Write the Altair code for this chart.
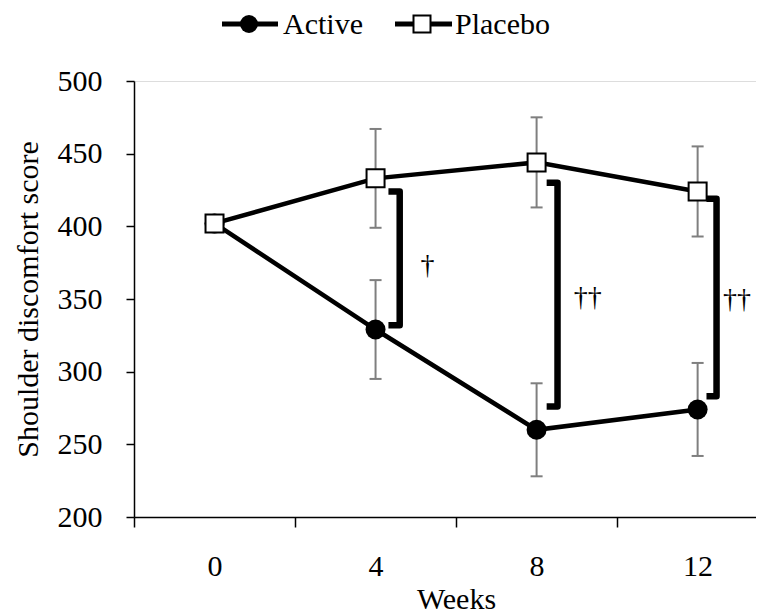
import altair as alt
import pandas as pd

# ---- data ----
weeks = [0, 4, 8, 12]
active_mean = [402, 329, 260, 274]
active_se = [0, 34, 32, 32]
placebo_mean = [402, 433, 444, 424]
placebo_se = [0, 34, 31, 31]

# significance brackets (data units)
bracket_arm_x = [4.32, 8.25, 12.22]
bracket_line_x = [4.6, 8.52, 12.47]
bracket_top = [424, 430, 419]
bracket_bottom = [332, 276, 283]
sig_labels = ["\u2020", "\u2020\u2020", "\u2020\u2020"]
sig_x = [5.29, 9.27, 12.98]
sig_y = [373, 351, 349]

FONT = "Liberation Serif"
FS = 30

rows = []
for w, m, s in zip(weeks, active_mean, active_se):
    rows.append({"week": w, "group": "Active", "mean": m, "lo": m - s, "hi": m + s, "se": s})
for w, m, s in zip(weeks, placebo_mean, placebo_se):
    rows.append({"week": w, "group": "Placebo", "mean": m, "lo": m - s, "hi": m + s, "se": s})
df = pd.DataFrame(rows)
df_err = df[df["se"] > 0]

brows = []
for i in range(len(bracket_top)):
    pts = [(bracket_arm_x[i], bracket_top[i]), (bracket_line_x[i], bracket_top[i]),
           (bracket_line_x[i], bracket_bottom[i]), (bracket_arm_x[i], bracket_bottom[i])]
    for k, (bx, by) in enumerate(pts):
        brows.append({"b": i, "ord": k, "bx": bx, "by": by})
bdf = pd.DataFrame(brows)
sdf = pd.DataFrame({"sx": sig_x, "sy": sig_y, "lab": sig_labels})

xscale = alt.Scale(domain=[-2, 13.45], nice=False, zero=False)
yscale = alt.Scale(domain=[200, 500], nice=False, zero=False)

x_axis = alt.Axis(
    values=[-2, 0, 2, 4, 6, 8, 10, 12],
    labelExpr="datum.value % 4 === 0 ? datum.label : ''",
    tickColor={"condition": {"test": "datum.value % 4 === 0", "value": "transparent"}, "value": "black"},
    grid=False, tickSize=10, tickWidth=1.5, domainColor="black", domainWidth=1.5,
    labelFont=FONT, labelFontSize=FS, labelColor="black", labelPadding=24,
    title="Weeks", titleFont=FONT, titleFontSize=FS, titleFontWeight="normal", titleColor="black",
    titleX=322, titleY=91, titleBaseline="alphabetic", titleAlign="center",
)
y_axis = alt.Axis(
    values=[200, 250, 300, 350, 400, 450, 500],
    grid=False, tickSize=8, tickWidth=1.5, tickColor="black", domainColor="black", domainWidth=1.5,
    labelFont=FONT, labelFontSize=FS, labelColor="black", labelPadding=24,
    title="Shoulder discomfort score", titleFont=FONT, titleFontSize=FS, titleFontWeight="normal",
    titleColor="black", titleX=-97, titleY=218, titleBaseline="alphabetic", titleAlign="center",
)

base = alt.Chart(df)
X = alt.X("week:Q", scale=xscale, axis=x_axis)
Y = alt.Y("mean:Q", scale=yscale, axis=y_axis)

err_rule = alt.Chart(df_err).mark_rule(color="#7f7f7f", strokeWidth=2).encode(
    x=alt.X("week:Q", scale=xscale), y=alt.Y("lo:Q", scale=yscale), y2="hi:Q")
err_lo = alt.Chart(df_err).mark_point(shape="stroke", size=144, color="#7f7f7f", strokeWidth=2, opacity=1).encode(
    x=alt.X("week:Q", scale=xscale), y=alt.Y("lo:Q", scale=yscale))
err_hi = alt.Chart(df_err).mark_point(shape="stroke", size=144, color="#7f7f7f", strokeWidth=2, opacity=1).encode(
    x=alt.X("week:Q", scale=xscale), y=alt.Y("hi:Q", scale=yscale))

lines = base.mark_line(color="black", strokeWidth=4.5).encode(
    x=X, y=Y, detail="group:N", order="week:Q")

act_pts = alt.Chart(df[df["group"] == "Active"]).mark_point(
    shape="circle", size=400, filled=True, color="black", opacity=1).encode(
    x=alt.X("week:Q", scale=xscale), y=alt.Y("mean:Q", scale=yscale))
pla_pts = alt.Chart(df[df["group"] == "Placebo"]).mark_point(
    shape="square", size=324, filled=True, fill="white", stroke="black", strokeWidth=2, opacity=1).encode(
    x=alt.X("week:Q", scale=xscale), y=alt.Y("mean:Q", scale=yscale))

brackets = alt.Chart(bdf).mark_line(color="black", strokeWidth=6.5, strokeJoin="round", strokeCap="butt").encode(
    x=alt.X("bx:Q", scale=xscale), y=alt.Y("by:Q", scale=yscale), detail="b:N", order="ord:Q")
sig = alt.Chart(sdf).mark_text(font=FONT, fontSize=28, color="black", align="center", baseline="middle").encode(
    x=alt.X("sx:Q", scale=xscale), y=alt.Y("sy:Q", scale=yscale), text="lab:N")

# custom legend (line + marker symbols) above the plot
leg = pd.DataFrame({"k": [0]})
leg_a_line = alt.Chart(leg).mark_rule(color="black", strokeWidth=5).encode(
    x=alt.value(88), x2=alt.value(144), y=alt.value(-57))
leg_a_pt = alt.Chart(leg).mark_point(shape="circle", size=324, filled=True, color="black", opacity=1).encode(
    x=alt.value(115), y=alt.value(-57))
leg_a_txt = alt.Chart(leg).mark_text(font=FONT, fontSize=FS, color="black", align="left", baseline="alphabetic").encode(
    x=alt.value(149), y=alt.value(-47), text=alt.value("Active"))
leg_p_line = alt.Chart(leg).mark_rule(color="black", strokeWidth=5).encode(
    x=alt.value(261), x2=alt.value(318), y=alt.value(-57))
leg_p_pt = alt.Chart(leg).mark_point(shape="square", size=289, filled=True, fill="white", stroke="black",
                                     strokeWidth=2, opacity=1).encode(x=alt.value(288), y=alt.value(-57))
leg_p_txt = alt.Chart(leg).mark_text(font=FONT, fontSize=FS, color="black", align="left", baseline="alphabetic").encode(
    x=alt.value(321), y=alt.value(-47), text=alt.value("Placebo"))

chart = alt.layer(
    err_rule, err_lo, err_hi, lines, act_pts, pla_pts, brackets, sig,
    leg_a_line, leg_a_pt, leg_a_txt, leg_p_line, leg_p_pt, leg_p_txt,
).properties(
    width=622, height=436,
    autosize=alt.AutoSizeParams(type="none"),
    padding={"left": 126, "top": 73, "right": 0, "bottom": 97},
).configure_view(stroke=None).configure(background="white")

chart.save("out.html", embed_options={"renderer": "svg", "actions": False})
